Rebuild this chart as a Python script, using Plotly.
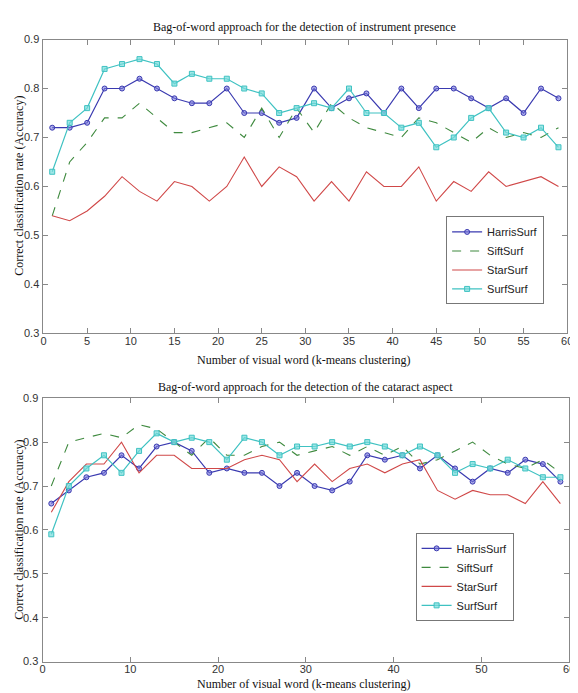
import plotly.graph_objects as go

x_words = [1, 3, 5, 7, 9, 11, 13, 15, 17, 19, 21, 23, 25, 27, 29,
           31, 33, 35, 37, 39, 41, 43, 45, 47, 49, 51, 53, 55, 57, 59]

series_names = ["HarrisSurf", "SiftSurf", "StarSurf", "SurfSurf"]

# Top: detection of instrument presence
instr_harris = [0.72, 0.72, 0.73, 0.80, 0.80, 0.82, 0.80, 0.78, 0.77, 0.77, 0.80, 0.75, 0.75, 0.73, 0.74,
                0.80, 0.76, 0.78, 0.79, 0.75, 0.80, 0.76, 0.80, 0.80, 0.78, 0.76, 0.78, 0.75, 0.80, 0.78]
instr_sift = [0.54, 0.65, 0.69, 0.74, 0.74, 0.77, 0.74, 0.71, 0.71, 0.72, 0.73, 0.70, 0.76, 0.70, 0.76,
              0.71, 0.77, 0.74, 0.72, 0.71, 0.70, 0.74, 0.73, 0.71, 0.69, 0.72, 0.70, 0.71, 0.70, 0.72]
instr_star = [0.54, 0.53, 0.55, 0.58, 0.62, 0.59, 0.57, 0.61, 0.60, 0.57, 0.60, 0.66, 0.60, 0.64, 0.62,
              0.57, 0.61, 0.57, 0.63, 0.60, 0.60, 0.64, 0.57, 0.61, 0.59, 0.63, 0.60, 0.61, 0.62, 0.60]
instr_surf = [0.63, 0.73, 0.76, 0.84, 0.85, 0.86, 0.85, 0.81, 0.83, 0.82, 0.82, 0.80, 0.79, 0.75, 0.76,
              0.77, 0.76, 0.80, 0.75, 0.75, 0.72, 0.73, 0.68, 0.70, 0.74, 0.76, 0.71, 0.70, 0.72, 0.68]

# Bottom: detection of the cataract aspect
cat_harris = [0.66, 0.69, 0.72, 0.73, 0.77, 0.74, 0.79, 0.80, 0.78, 0.73, 0.74, 0.73, 0.73, 0.70, 0.73,
              0.70, 0.69, 0.71, 0.77, 0.76, 0.77, 0.74, 0.77, 0.74, 0.71, 0.74, 0.73, 0.76, 0.75, 0.71]
cat_sift = [0.70, 0.80, 0.81, 0.82, 0.81, 0.84, 0.83, 0.80, 0.77, 0.81, 0.77, 0.77, 0.79, 0.80, 0.77,
            0.78, 0.79, 0.77, 0.79, 0.77, 0.79, 0.75, 0.76, 0.78, 0.80, 0.77, 0.75, 0.74, 0.76, 0.73]
cat_star = [0.64, 0.71, 0.75, 0.75, 0.80, 0.73, 0.77, 0.77, 0.74, 0.74, 0.74, 0.76, 0.77, 0.76, 0.71,
            0.75, 0.71, 0.74, 0.75, 0.73, 0.75, 0.76, 0.69, 0.67, 0.69, 0.68, 0.68, 0.66, 0.71, 0.66]
cat_surf = [0.59, 0.70, 0.74, 0.77, 0.73, 0.78, 0.82, 0.80, 0.81, 0.80, 0.76, 0.81, 0.80, 0.77, 0.79,
            0.79, 0.80, 0.79, 0.80, 0.79, 0.77, 0.79, 0.77, 0.73, 0.75, 0.74, 0.76, 0.74, 0.72, 0.72]

titles = ["Bag-of-word approach for the detection of instrument presence",
          "Bag-of-word approach for the detection of the cataract aspect"]
x_title = "Number of visual word (k-means clustering)"
y_title = "Correct classification rate (Accuracy)"

colors = {"HarrisSurf": "#3a3ab0", "SiftSurf": "#3f8a3f", "StarSurf": "#d04848", "SurfSurf": "#3fc2c2"}
styles = {
    "HarrisSurf": dict(mode="lines+markers", line=dict(width=1.2),
                       marker=dict(symbol="circle", size=5, color="rgba(120,120,220,0.6)",
                                   line=dict(width=1, color=colors["HarrisSurf"]))),
    "SiftSurf": dict(mode="lines", line=dict(width=1.1, dash="dash")),
    "StarSurf": dict(mode="lines", line=dict(width=1.1)),
    "SurfSurf": dict(mode="lines+markers", line=dict(width=1.2),
                     marker=dict(symbol="square", size=5, color="rgba(120,220,220,0.7)",
                                 line=dict(width=1, color=colors["SurfSurf"]))),
}

fig = go.Figure()

panels = [
    ("x", "y", "legend", [instr_harris, instr_sift, instr_star, instr_surf]),
    ("x2", "y2", "legend2", [cat_harris, cat_sift, cat_star, cat_surf]),
]
for xa, ya, lg, data in panels:
    for name, vals in zip(series_names, data):
        st = styles[name]
        line = dict(st["line"], color=colors[name])
        kw = dict(x=x_words, y=vals, name=name, mode=st["mode"], line=line,
                  xaxis=xa, yaxis=ya, legend=lg)
        if "marker" in st:
            kw["marker"] = st["marker"]
        fig.add_trace(go.Scatter(**kw))

W, H = 578, 693
tick_font = dict(family="Liberation Sans, Arial", size=11, color="#333")
axis_common = dict(showline=True, linecolor="#888", linewidth=1, mirror="ticks",
                   ticks="inside", ticklen=5, tickcolor="#888", showgrid=False,
                   zeroline=False, tickfont=tick_font)
xcommon = dict(axis_common, ticklabelstandoff=-3)
ycommon = dict(axis_common, ticklabelstandoff=1)

fig.update_layout(
    width=W, height=H,
    margin=dict(l=0, r=0, t=0, b=0),
    paper_bgcolor="white", plot_bgcolor="white",
    showlegend=True,
    xaxis=dict(xcommon, domain=[33 / W, 565 / W], range=[0, 60], dtick=5, tick0=0,
               anchor="y"),
    yaxis=dict(ycommon, domain=[1 - 325 / H, 1 - 26 / H], range=[0.3, 0.9], dtick=0.1,
               tickformat=".1f", anchor="x"),
    xaxis2=dict(xcommon, domain=[32 / W, 567 / W], range=[0, 60], dtick=10, tick0=0,
                anchor="y2"),
    yaxis2=dict(ycommon, domain=[1 - 659 / H, 1 - 391 / H], range=[0.3, 0.9], dtick=0.1,
                tickformat=".1f", anchor="x2"),
    legend=dict(x=442 / W, y=1 - 206 / H, xanchor="left", yanchor="top",
                bgcolor="white", bordercolor="#777", borderwidth=1,
                font=dict(family="Liberation Sans, Arial", size=11, color="#222"),
                itemwidth=30, tracegroupgap=0),
    legend2=dict(x=411 / W, y=1 - 528 / H, xanchor="left", yanchor="top",
                 bgcolor="white", bordercolor="#777", borderwidth=1,
                 font=dict(family="Liberation Sans, Arial", size=11, color="#222"),
                 itemwidth=30, tracegroupgap=0),
)

serif = dict(family="Liberation Serif, Times New Roman", size=12, color="#111")
ann = [
    dict(text=titles[0], x=298 / W, y=1 - 13 / H),
    dict(text=titles[1], x=299 / W, y=1 - 380 / H),
    dict(text=x_title, x=298 / W, y=1 - 352 / H),
    dict(text=x_title, x=298 / W, y=1 - 682 / H),
    dict(text=y_title, x=8 / W, y=1 - 175 / H, textangle=-90),
    dict(text=y_title, x=8 / W, y=1 - 525 / H, textangle=-90),
]
for a in ann:
    fig.add_annotation(xref="paper", yref="paper", showarrow=False, font=serif,
                       xanchor="center", yanchor="middle", **a)

fig.write_html("out.html")
